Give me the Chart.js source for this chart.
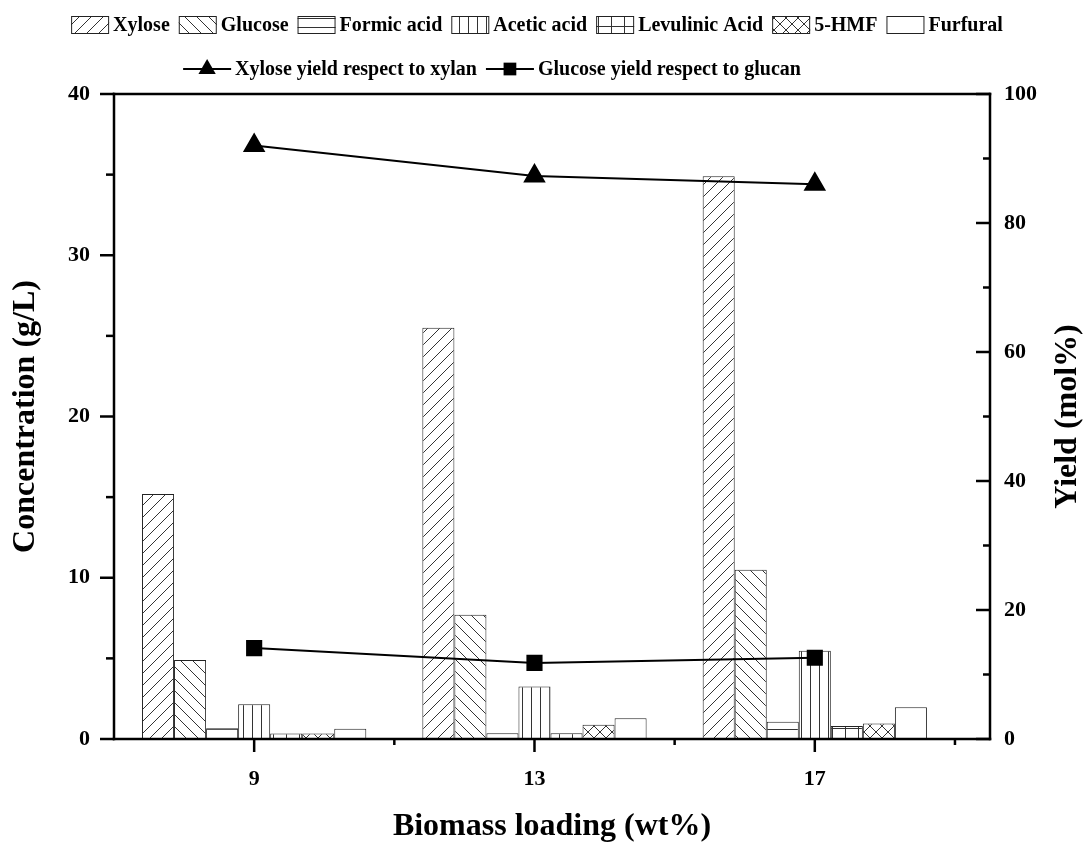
<!DOCTYPE html>
<html>
<head>
<meta charset="utf-8">
<script src="https://cdn.jsdelivr.net/npm/chart.js@4.4.1/dist/chart.umd.min.js"></script>
<style>
  body { margin: 0; background: #fff; }
  #contenitore { width: 1088px; height: 847px; }
</style>
</head>
<body>
<div id="contenitore"><canvas id="grafico"></canvas></div>
<script>
// dati
const carico = [9, 13, 17];
const xilosio = [15.2, 25.5, 34.9];
const glucosio = [4.9, 7.7, 10.5];
const acidoFormico = [0.67, 0.36, 1.07];
const acidoAcetico = [2.16, 3.26, 5.47];
const acidoLevulinico = [0.34, 0.36, 0.8];
const hmf = [0.34, 0.88, 0.96];
const furfurale = [0.63, 1.29, 1.97];
const resaXilosio = [92.0, 87.3, 86.0];
const resaGlucosio = [14.1, 11.8, 12.6];

const tickX = [9, 13, 17];
const tickMinoriX = [11, 15, 19];
const tickSinistra = [0, 10, 20, 30, 40];
const tickMinoriSinistra = [5, 15, 25, 35];
const tickDestra = [0, 20, 40, 60, 80, 100];
const tickMinoriDestra = [10, 30, 50, 70, 90];

const FONT = "'Liberation Serif', 'Times New Roman', serif";

function creaTrama(tipo) {
    const s = tipo === 'griglia' ? 13 : (tipo === 'verticale' || tipo === 'orizzontale') ? 9 : 12;
    const t = document.createElement('canvas');
    t.width = s;
    t.height = s;
    const c = t.getContext('2d');
    c.fillStyle = '#fff';
    c.fillRect(0, 0, s, s);
    c.strokeStyle = '#333';
    c.lineWidth = 1;
    c.beginPath();
    if (tipo === 'destra' || tipo === 'incrocio') {
        c.moveTo(0, s); c.lineTo(s, 0);
        c.moveTo(-1, 1); c.lineTo(1, -1);
        c.moveTo(s - 1, s + 1); c.lineTo(s + 1, s - 1);
    }
    if (tipo === 'sinistra' || tipo === 'incrocio') {
        c.moveTo(0, 0); c.lineTo(s, s);
        c.moveTo(s - 1, -1); c.lineTo(s + 1, 1);
        c.moveTo(-1, s - 1); c.lineTo(1, s + 1);
    }
    if (tipo === 'verticale' || tipo === 'griglia') {
        c.moveTo(0.5, 0); c.lineTo(0.5, s);
    }
    if (tipo === 'orizzontale' || tipo === 'griglia') {
        c.moveTo(0, 0.5); c.lineTo(s, 0.5);
    }
    c.stroke();
    return c.createPattern(t, 'repeat');
}

const barre = [
    { label: 'Xylose', valori: xilosio, trama: creaTrama('destra') },
    { label: 'Glucose', valori: glucosio, trama: creaTrama('sinistra') },
    { label: 'Formic acid', valori: acidoFormico, trama: creaTrama('orizzontale') },
    { label: 'Acetic acid', valori: acidoAcetico, trama: creaTrama('verticale') },
    { label: 'Levulinic Acid', valori: acidoLevulinico, trama: creaTrama('griglia') },
    { label: '5-HMF', valori: hmf, trama: creaTrama('incrocio') },
    { label: 'Furfural', valori: furfurale, trama: '#fff' }
];

const datasets = barre.map(b => ({
    type: 'bar',
    label: b.label,
    data: carico.map((x, i) => ({ x: x, y: b.valori[i] })),
    backgroundColor: b.trama,
    borderColor: '#222',
    borderWidth: 1,
    yAxisID: 'y',
    order: 1,
    categoryPercentage: 0.8,
    barPercentage: 1.0
}));

datasets.push({
    type: 'line',
    label: 'Xylose yield respect to xylan',
    data: carico.map((x, i) => ({ x: x, y: resaXilosio[i] })),
    borderColor: '#000',
    borderWidth: 2,
    pointStyle: 'triangle',
    pointRadius: 11,
    pointBackgroundColor: '#000',
    pointBorderColor: '#000',
    yAxisID: 'y1',
    order: 0
});
datasets.push({
    type: 'line',
    label: 'Glucose yield respect to glucan',
    data: carico.map((x, i) => ({ x: x, y: resaGlucosio[i] })),
    borderColor: '#000',
    borderWidth: 2,
    pointStyle: 'rect',
    pointRadius: 10,
    pointBackgroundColor: '#000',
    pointBorderColor: '#000',
    yAxisID: 'y1',
    order: 0
});

function disegnaMarcatore(ctx, stile, x, y, r) {
    ctx.beginPath();
    if (stile === 'triangle') {
        ctx.moveTo(x, y - r);
        ctx.lineTo(x + r * 0.866, y + r * 0.5);
        ctx.lineTo(x - r * 0.866, y + r * 0.5);
        ctx.closePath();
    } else {
        const l = r * Math.SQRT1_2;
        ctx.rect(x - l, y - l, 2 * l, 2 * l);
    }
    ctx.fill();
}

// legenda su due righe come nell'originale
const legendaDueRighe = {
    id: 'legendaDueRighe',
    afterDraw(chart, args, opts) {
        const ctx = chart.ctx;
        ctx.save();
        ctx.font = opts.font;
        ctx.textBaseline = 'middle';
        const righe = [
            chart.data.datasets.filter(d => d.type === 'bar'),
            chart.data.datasets.filter(d => d.type === 'line')
        ];
        righe.forEach((voci, r) => {
            const box = r === 0 ? opts.boxBarra : opts.boxLinea;
            const larghezze = voci.map(d => box + opts.spazioTesto + ctx.measureText(d.label).width);
            const totale = larghezze.reduce((a, b) => a + b, 0) + opts.spazioVoci * (voci.length - 1);
            let x = opts.centri[r] - totale / 2;
            const y = opts.righeY[r];
            voci.forEach((d, i) => {
                if (d.type === 'bar') {
                    ctx.fillStyle = d.backgroundColor;
                    ctx.fillRect(x, y - opts.altezzaBox / 2, box, opts.altezzaBox);
                    ctx.strokeStyle = '#222';
                    ctx.lineWidth = 1;
                    ctx.strokeRect(x + 0.5, y - opts.altezzaBox / 2 + 0.5, box - 1, opts.altezzaBox - 1);
                } else {
                    ctx.strokeStyle = '#000';
                    ctx.lineWidth = 2;
                    ctx.beginPath();
                    ctx.moveTo(x, y);
                    ctx.lineTo(x + box, y);
                    ctx.stroke();
                    ctx.fillStyle = '#000';
                    disegnaMarcatore(ctx, d.pointStyle, x + box / 2, y, d.pointStyle === 'triangle' ? 10 : 9);
                }
                ctx.fillStyle = '#000';
                ctx.textAlign = 'left';
                ctx.fillText(d.label, x + box + opts.spazioTesto, y + 1);
                x += larghezze[i] + opts.spazioVoci;
            });
        });
        ctx.restore();
    }
};

// cornice, tacche interne/esterne e titolo dell'asse destro
const cornice = {
    id: 'cornice',
    afterDatasetsDraw(chart) {
        const { ctx, chartArea: a, scales } = chart;
        const linea = (x1, y1, x2, y2) => {
            ctx.beginPath();
            ctx.moveTo(x1, y1);
            ctx.lineTo(x2, y2);
            ctx.stroke();
        };
        ctx.save();
        ctx.strokeStyle = '#000';
        ctx.lineWidth = 2.5;
        ctx.lineCap = 'square';
        linea(a.left, a.top, a.right, a.top);
        linea(a.left, a.bottom, a.right, a.bottom);
        linea(a.left, a.top, a.left, a.bottom);
        linea(a.right, a.top, a.right, a.bottom);
        ctx.lineCap = 'butt';
        tickSinistra.forEach(v => { const y = scales.y.getPixelForValue(v); linea(a.left - 14, y, a.left, y); });
        tickMinoriSinistra.forEach(v => { const y = scales.y.getPixelForValue(v); linea(a.left - 8, y, a.left, y); });
        tickDestra.forEach(v => { const y = scales.y1.getPixelForValue(v); linea(a.right - 14, y, a.right, y); });
        tickMinoriDestra.forEach(v => { const y = scales.y1.getPixelForValue(v); linea(a.right - 7, y, a.right, y); });
        tickX.forEach(v => { const x = scales.x.getPixelForValue(v); linea(x, a.bottom, x, a.bottom + 13); });
        tickMinoriX.forEach(v => { const x = scales.x.getPixelForValue(v); linea(x, a.bottom, x, a.bottom + 6); });

        ctx.translate(1068, (a.top + a.bottom) / 2);
        ctx.rotate(-Math.PI / 2);
        ctx.font = 'bold 32px ' + FONT;
        ctx.fillStyle = '#000';
        ctx.textAlign = 'center';
        ctx.textBaseline = 'middle';
        ctx.fillText('Yield (mol%)', 0, 0);
        ctx.restore();
    }
};

const fontTick = { family: FONT, size: 22, weight: 'bold' };
const fontTitolo = { family: FONT, size: 32, weight: 'bold' };

new Chart(document.getElementById('grafico'), {
    data: { datasets: datasets },
    options: {
        responsive: true,
        maintainAspectRatio: false,
        animation: false,
        layout: { padding: { top: 94, left: 0, right: 0, bottom: 0 } },
        scales: {
            x: {
                type: 'linear',
                offset: false,
                min: 7,
                max: 19.5,
                afterBuildTicks: scale => { scale.ticks = tickX.map(v => ({ value: v })); },
                afterFit: scale => { scale.height = 108; },
                grid: { display: false, drawTicks: false },
                border: { display: false },
                ticks: { color: '#000', font: fontTick, padding: 27 },
                title: {
                    display: true,
                    text: 'Biomass loading (wt%)',
                    color: '#000',
                    font: fontTitolo,
                    padding: { top: 0, bottom: 1 }
                }
            },
            y: {
                position: 'left',
                min: 0,
                max: 40,
                afterBuildTicks: scale => { scale.ticks = tickSinistra.map(v => ({ value: v })); },
                afterFit: scale => { scale.width = 114; },
                grid: { display: false, drawTicks: false },
                border: { display: false },
                ticks: { color: '#000', font: fontTick, padding: 24 },
                title: {
                    display: true,
                    text: 'Concentration (g/L)',
                    color: '#000',
                    font: fontTitolo,
                    padding: { top: 7, bottom: 0 }
                }
            },
            y1: {
                position: 'right',
                min: 0,
                max: 100,
                afterBuildTicks: scale => { scale.ticks = tickDestra.map(v => ({ value: v })); },
                afterFit: scale => { scale.width = 98; },
                grid: { display: false, drawTicks: false },
                border: { display: false },
                ticks: { color: '#000', font: fontTick, padding: 14 }
            }
        },
        plugins: {
            legend: { display: false },
            tooltip: { enabled: false },
            legendaDueRighe: {
                font: 'bold 20px ' + FONT,
                boxBarra: 38,
                boxLinea: 48,
                altezzaBox: 18,
                spazioTesto: 4,
                spazioVoci: 9,
                centri: [537, 492],
                righeY: [25, 69]
            }
        }
    },
    plugins: [cornice, legendaDueRighe]
});
</script>
</body>
</html>
